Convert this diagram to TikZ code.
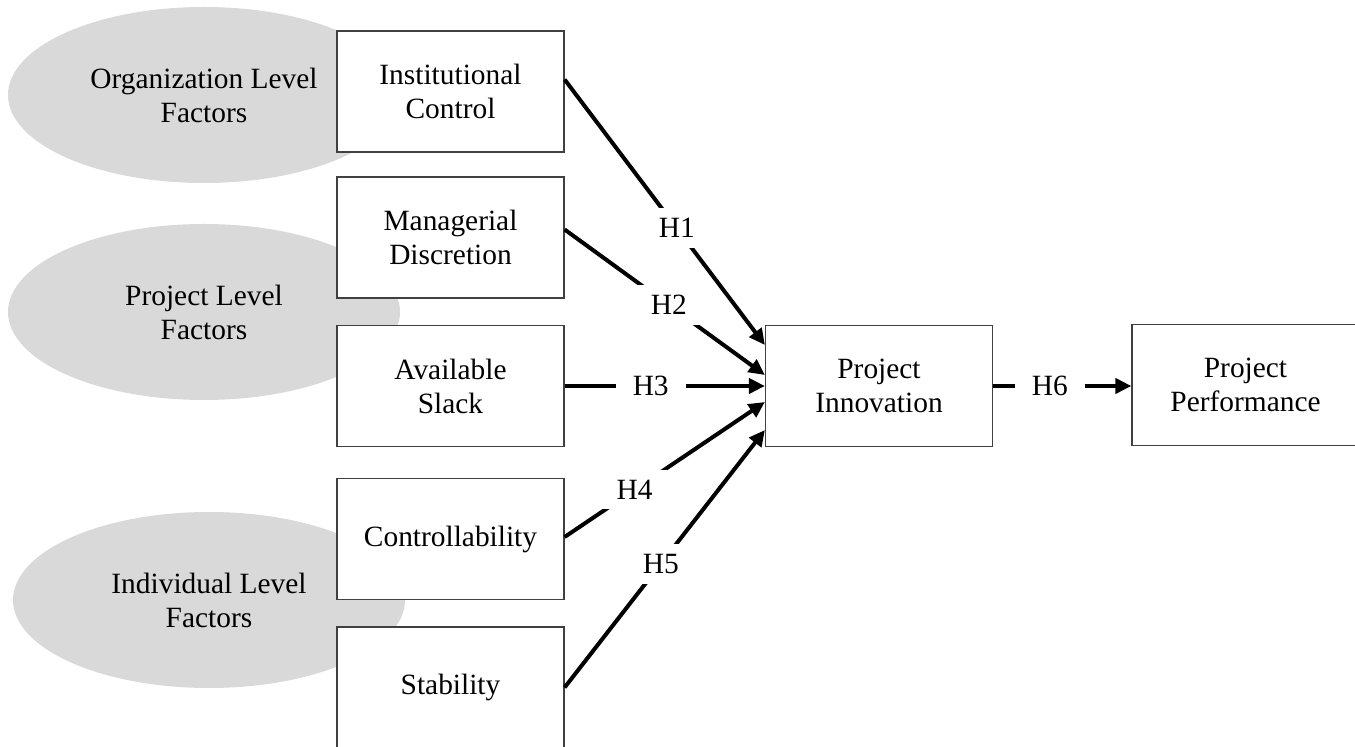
\documentclass[tikz,border=0pt]{standalone}
\usepackage{fontspec}
\setmainfont{Liberation Serif}
\usetikzlibrary{arrows.meta,shapes.geometric}
\definecolor{factorgray}{RGB}{217,217,217}

\begin{document}
\begin{tikzpicture}[x=0.5pt,y=-0.5pt,font=\fontsize{14.7}{17}\selectfont,
   factor/.style={ellipse,fill=factorgray,inner sep=0pt,align=center,
                  minimum width=196pt,minimum height=88pt},
   var/.style={rectangle,draw=black!75,line width=0.6pt,fill=white,align=center,
               minimum width=113.5pt,minimum height=60.5pt},
   hyp/.style={fill=white,inner xsep=8.5pt,inner ysep=5pt},
   link/.style={line width=2pt,-{Triangle[length=8pt,width=7.5pt]}}]
   \useasboundingbox (0,0) rectangle (1355,747);
   \clip (0,0) rectangle (1355,747);
   % factor groups
   \node[factor] (orgf) at (204, 95) {Organization Level\\Factors};
   \node[factor] (prjf) at (204,312) {Project Level\\Factors};
   \node[factor] (indf) at (209,600) {Individual Level\\Factors};
   % variables
   \node[var] (ic) at (450.5, 91.5) {Institutional\\Control};
   \node[var] (md) at (450.5,237.5) {Managerial\\Discretion};
   \node[var] (as) at (450.5,386)   {Available\\Slack};
   \node[var] (ct) at (450.5,539)   {Controllability};
   \node[var] (st) at (450.5,687.5) {Stability};
   \node[var] (pi) at (879,386)     {Project\\Innovation};
   \node[var] (pp) at (1245.5,385)  {Project\\Performance};
   % hypotheses
   \draw[link] ([yshift=6pt]ic.east) -- node[hyp,pos=0.56]{H1} ([yshift=20.5pt]pi.west);
   \draw[link] ([yshift=4pt]md.east) -- node[hyp,pos=0.52]{H2} ([yshift=5.5pt]pi.west);
   \draw[link] (as.east) -- node[hyp,pos=0.43]{H3} (pi.west);
   \draw[link] ([yshift=1pt]ct.east) -- node[hyp,pos=0.35]{H4} ([yshift=-8pt]pi.west);
   \draw[link] (st.east) -- node[hyp,pos=0.48]{H5} ([yshift=-22pt]pi.west);
   \draw[link] (pi.east) -- node[hyp,pos=0.41]{H6} (pi.east -| pp.west);
\end{tikzpicture}
\end{document}
